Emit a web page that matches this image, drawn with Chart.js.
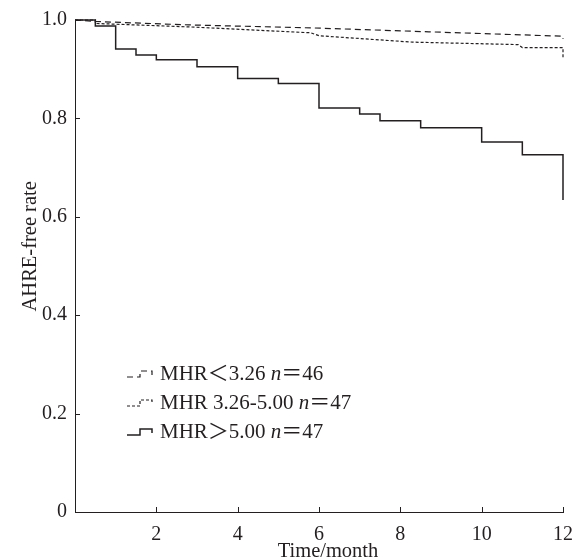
<!DOCTYPE html>
<html>
<head>
<meta charset="utf-8">
<script src="https://cdn.jsdelivr.net/npm/chart.js@4.4.1/dist/chart.umd.min.js"></script>
<style>html,body{margin:0;padding:0;background:#fff}</style>
</head>
<body>
<canvas id="km" width="576" height="560"></canvas>
<script>
// Kaplan-Meier curves (month, AHRE-free rate)
const lowMonths = [0, 0.5, 2.8, 5.8, 8.7, 12, 12];
const lowRate = [1.0, 0.997, 0.990, 0.984, 0.976, 0.967, 0.962];

const midMonths = [0, 0.5, 0.5, 2.8, 5.8, 6.0, 8.3, 10.9, 11.0, 12, 12];
const midRate = [1.0, 1.0, 0.993, 0.986, 0.974, 0.968, 0.955, 0.950, 0.944, 0.944, 0.921];

const highMonths = [0, 0.5, 1, 1.5, 2, 3, 4, 5, 6, 7, 7.5, 8.5, 10, 11, 12];
const highRate = [1, 0.988, 0.941, 0.929, 0.919, 0.905, 0.881, 0.871, 0.821, 0.809, 0.795, 0.781, 0.752, 0.726, 0.634];

const xTicks = [2, 4, 6, 8, 10, 12];
const yTicks = [0, 0.2, 0.4, 0.6, 0.8, 1.0];
const legendNames = ['MHR\uFF1C3.26 ', 'MHR 3.26-5.00 ', 'MHR\uFF1E5.00 '];
const legendCounts = ['46', '47', '47'];
const xTitle = 'Time/month';
const yTitle = 'AHRE-free rate';

const ink = '#231f20';
const serif = '"Liberation Serif", "Noto Sans CJK SC", serif';

const toPoints = (xs, ys) => xs.map((m, i) => ({ x: m, y: ys[i] }));

const styles = [
    { dash: [6, 4], width: 1.2, stepped: false },
    { dash: [3, 2], width: 1.2, stepped: false },
    { dash: [], width: 1.5, stepped: true }
];

const kmDecor = {
    id: 'kmDecor',
    afterDraw(chart) {
        const { ctx, chartArea, scales: { x, y } } = chart;
        ctx.save();
        ctx.strokeStyle = ink;
        ctx.lineWidth = 1;
        ctx.beginPath();
        xTicks.forEach(v => {
            const px = Math.round(x.getPixelForValue(v)) + 0.5;
            ctx.moveTo(px, chartArea.bottom);
            ctx.lineTo(px, chartArea.bottom - 5);
        });
        yTicks.slice(1).forEach(v => {
            const py = Math.round(y.getPixelForValue(v)) + 0.5;
            ctx.moveTo(chartArea.left, py);
            ctx.lineTo(chartArea.left + 5, py);
        });
        ctx.stroke();

        // axis titles
        ctx.fillStyle = ink;
        ctx.font = '20.5px ' + serif;
        ctx.textAlign = 'center';
        ctx.textBaseline = 'alphabetic';
        ctx.fillText(xTitle, (chartArea.left + chartArea.right) / 2 + 9, 557);
        ctx.save();
        ctx.translate(36, y.getPixelForValue(0.54));
        ctx.rotate(-Math.PI / 2);
        ctx.fillText(yTitle, 0, 0);
        ctx.restore();

        // legend, drawn by hand to get the small step glyphs and italic n
        const bases = [380, 409, 438];
        bases.forEach((b, i) => {
            const st = styles[i];
            const cy = b - 6;
            ctx.strokeStyle = ink;
            ctx.lineWidth = st.width;
            ctx.setLineDash(st.dash);
            ctx.beginPath();
            ctx.moveTo(127, cy + 3);
            ctx.lineTo(140, cy + 3);
            ctx.lineTo(140, cy - 3);
            ctx.lineTo(152, cy - 3);
            ctx.lineTo(152, cy + 1);
            ctx.stroke();
            ctx.setLineDash([]);

            ctx.textAlign = 'left';
            let tx = 160;
            ctx.font = '21px ' + serif;
            ctx.fillText(legendNames[i], tx, b);
            tx += ctx.measureText(legendNames[i]).width;
            ctx.font = 'italic 21px ' + serif;
            ctx.fillText('n', tx, b);
            tx += ctx.measureText('n').width;
            ctx.font = '21px ' + serif;
            ctx.fillText('\uFF1D' + legendCounts[i], tx, b);
        });
        ctx.restore();
    }
};

new Chart(document.getElementById('km'), {
    type: 'line',
    data: {
        datasets: [
            { label: legendNames[0], data: toPoints(lowMonths, lowRate) },
            { label: legendNames[1], data: toPoints(midMonths, midRate) },
            { label: legendNames[2], data: toPoints(highMonths, highRate) }
        ].map((d, i) => Object.assign(d, {
            borderColor: ink,
            borderWidth: styles[i].width,
            borderDash: styles[i].dash,
            stepped: styles[i].stepped,
            tension: 0,
            pointRadius: 0,
            fill: false,
            clip: false
        }))
    },
    options: {
        responsive: false,
        animation: false,
        layout: { padding: { top: 20, right: 13, left: 0, bottom: 0 } },
        plugins: { legend: { display: false }, tooltip: { enabled: false } },
        scales: {
            x: {
                type: 'linear',
                min: 0,
                max: 12,
                afterFit: s => { s.height = 48; s.paddingLeft = 0; s.paddingRight = 0; },
                afterBuildTicks: s => { s.ticks = xTicks.map(v => ({ value: v })); },
                grid: { display: false, drawTicks: false, tickLength: 0 },
                border: { display: true, color: ink, width: 1 },
                ticks: { color: ink, font: { family: serif, size: 20 }, padding: 11, maxRotation: 0 }
            },
            y: {
                min: 0,
                max: 1,
                afterFit: s => { s.width = 75; s.paddingTop = 0; s.paddingBottom = 0; },
                afterBuildTicks: s => { s.ticks = yTicks.map(v => ({ value: v })); },
                grid: { display: false, drawTicks: false, tickLength: 0 },
                border: { display: true, color: ink, width: 1 },
                ticks: {
                    color: ink,
                    font: { family: serif, size: 20 },
                    padding: 8,
                    callback: v => v === 0 ? '0' : v.toFixed(1)
                }
            }
        }
    },
    plugins: [kmDecor]
});
</script>
</body>
</html>
